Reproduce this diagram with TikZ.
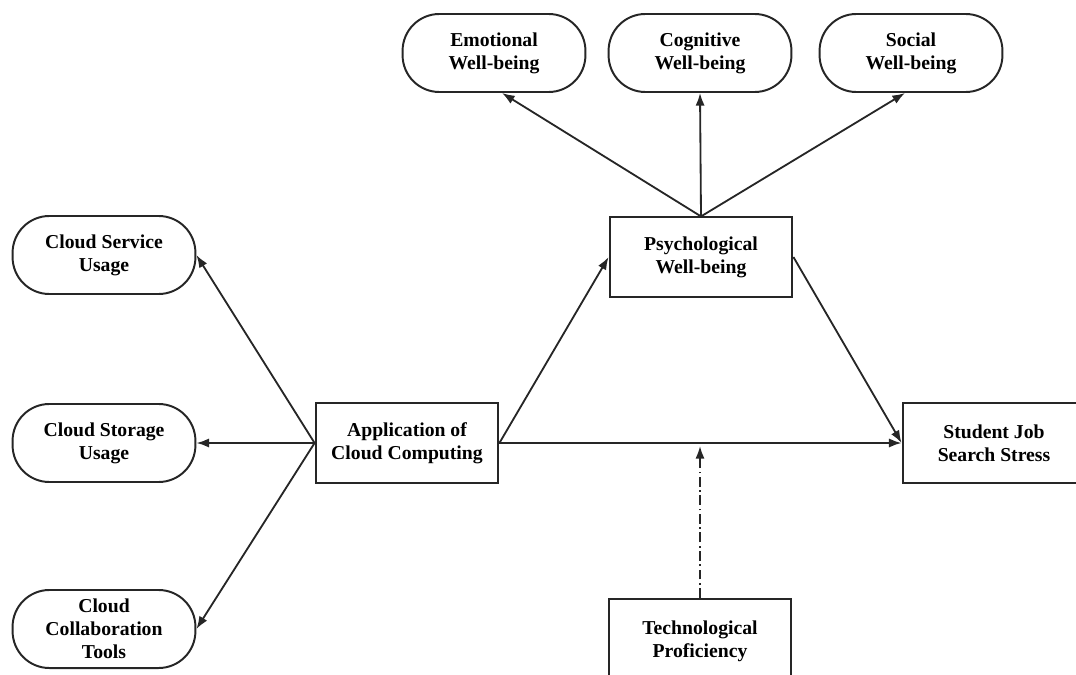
\documentclass[tikz,border=0pt]{standalone}
\usepackage{fontspec}
\setmainfont{Liberation Serif}
\usetikzlibrary{positioning,arrows.meta}

\begin{document}
\begin{tikzpicture}[
    x=0.025cm, y=-0.025cm,
    dimension/.style={rectangle, draw=black!85, line width=1.4pt, fill=white,
        minimum width=4.57cm, minimum height=1.95cm, align=center,
        font=\fontsize{14}{16.5}\selectfont\bfseries, rounded corners=0.92cm},
    construct/.style={rectangle, draw=black!85, line width=1.4pt, fill=white,
        minimum width=4.57cm, minimum height=1.98cm, align=center,
        font=\fontsize{14}{16.5}\selectfont\bfseries},
    arrow/.style={-{Latex[length=9pt, width=6.5pt]}, line width=1.3pt, draw=black!85},
    modarrow/.style={arrow, dash pattern=on 7pt off 2.5pt on 1.2pt off 2.5pt}
]
\useasboundingbox (0,0) rectangle (1076,675);
\clip (0,0) rectangle (1076,675);

% Well-being dimensions
\node[dimension] (emo) at (494,53) {Emotional\\Well-being};
\node[dimension] (cog) at (700,53) {Cognitive\\Well-being};
\node[dimension] (soc) at (911,53) {Social\\Well-being};

% Main constructs
\node[construct] (psych) at (701,257) {Psychological\\Well-being};
\node[construct] (app) at (407,443) {Application of\\Cloud Computing};
\node[construct] (stress) at (994,443) {Student Job\\Search Stress};
\node[construct, minimum height=2.1cm] (tech) at (700,641) {Technological\\Proficiency};

% Cloud computing dimensions
\node[dimension] (service) at (104,255) {Cloud Service\\Usage};
\node[dimension] (storage) at (104,443) {Cloud Storage\\Usage};
\node[dimension] (collab) at (104,629) {Cloud\\Collaboration\\Tools};

% Arrows
\draw[arrow] (app.west) -- (service.east);
\draw[arrow] (app.west) -- (storage.east);
\draw[arrow] (app.west) -- (collab.east);
\draw[arrow] (app.east) -- (psych.west);
\draw[arrow] (app.east) -- (stress.west);
\draw[arrow] (psych.east) -- (stress.west);
\draw[arrow] (psych.north) -- ([xshift=0.2cm]emo.south);
\draw[arrow] (psych.north) -- (cog.south);
\draw[arrow] (psych.north) -- ([xshift=-0.15cm]soc.south);

% Moderation
\coordinate (mod) at (700,446);
\draw[modarrow] (tech.north) -- (mod);

\end{tikzpicture}
\end{document}
